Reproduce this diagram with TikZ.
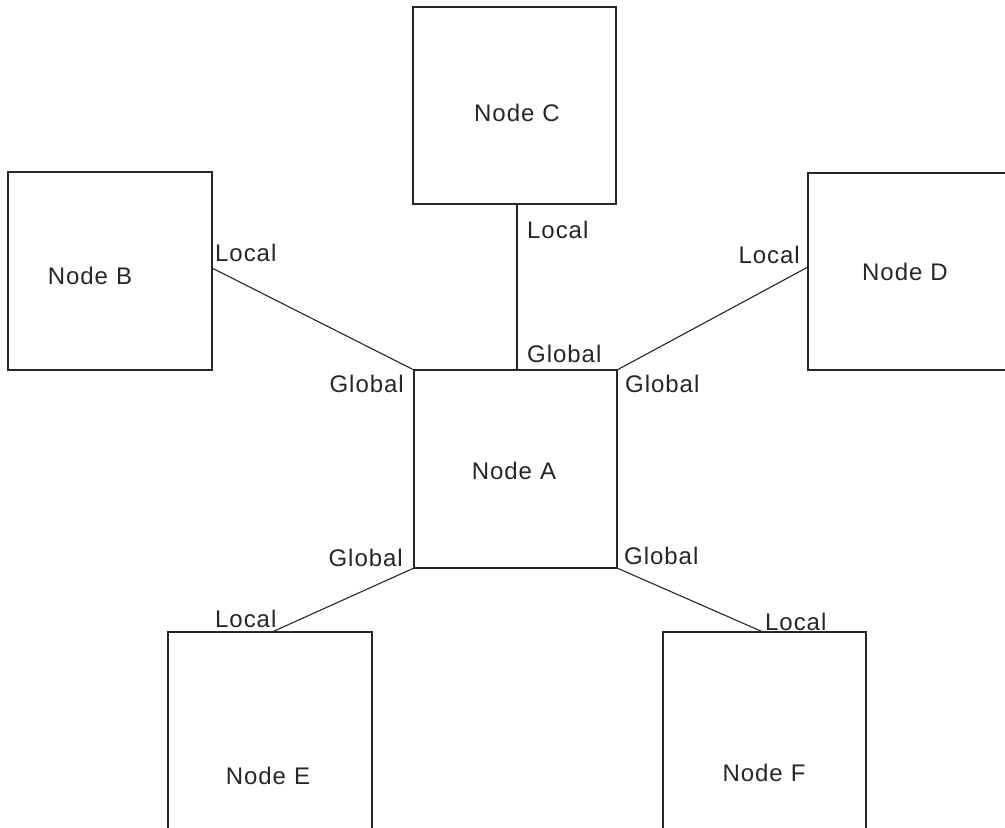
\documentclass[tikz,border=0pt]{standalone}
\usepackage{fontspec}
\setmainfont{Liberation Sans}[LetterSpace=4]
\begin{document}
\begin{tikzpicture}[x=1pt,y=-1pt,
  box/.style={draw=black!85, line width=1.4pt, inner sep=0pt, outer sep=0pt, fill=none},
  nodetxt/.style={font=\fontsize{24}{27}\selectfont, text=black!85, inner sep=0pt},
  lbl/.style={font=\fontsize{24}{27}\selectfont, text=black!85, inner sep=0pt},
  conn/.style={draw=black!85, line width=1.1pt}]
\clip (0,0) rectangle (1005,828);
\fill[white] (0,0) rectangle (1005,828);
% boxes
\node[box, minimum width=203pt, minimum height=197pt] (C) at (514.5,105.5) {};
\node[box, minimum width=204pt, minimum height=198pt] (B) at (110,271) {};
\node[box, minimum width=207pt, minimum height=197pt] (D) at (911.5,271.5) {};
\node[box, minimum width=203pt, minimum height=198pt] (A) at (515.5,469) {};
\node[box, minimum width=204pt, minimum height=268pt] (E) at (270,766) {};
\node[box, minimum width=203pt, minimum height=268pt] (F) at (764.5,766) {};
% texts
\node[nodetxt] (tC) at (517,113) {Node\,\,C};
\node[nodetxt] (tB) at (90,276) {Node\,\,B};
\node[nodetxt] (tD) at (905,272) {Node\,\,D};
\node[nodetxt] (tA) at (514,471) {Node\,\,A};
\node[nodetxt] (tE) at (268,776) {Node\,\,E};
\node[nodetxt] (tF) at (764,773) {Node\,\,F};
% connector ends
\coordinate (cCs) at (517,204);
\coordinate (cAn) at (517,370);
\coordinate (cBe) at (212,268);
\coordinate (cDw) at (808,267);
\coordinate (cEn) at (272,632);
\coordinate (cFn) at (763,632);
% connectors
\draw[conn] (cCs) -- (cAn);
\draw[conn] (cBe) -- (A.north west);
\draw[conn] (cDw) -- (A.north east);
\draw[conn] (A.south west) -- (cEn);
\draw[conn] (A.south east) -- (cFn);
% labels
\node[lbl, anchor=base west] (l1) at (527,238) {Local};
\node[lbl, anchor=base west] (l2) at (527,362) {Global};
\node[lbl, anchor=base west] (l3) at (215,261) {Local};
\node[lbl, anchor=base east] (l4) at (404,392) {Global};
\node[lbl, anchor=base east] (l5) at (800,263) {Local};
\node[lbl, anchor=base west] (l6) at (625,392) {Global};
\node[lbl, anchor=base east] (l7) at (403,566) {Global};
\node[lbl, anchor=base west] (l8) at (624,564) {Global};
\node[lbl, anchor=base west] (l9) at (215,627) {Local};
\node[lbl, anchor=base west] (l10) at (765,630) {Local};
\end{tikzpicture}
\end{document}
